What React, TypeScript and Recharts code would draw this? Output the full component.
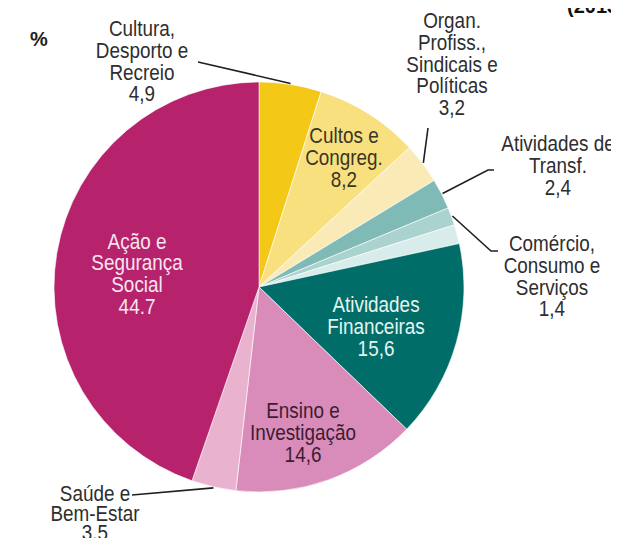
import { PieChart, Pie, Cell } from 'recharts'

const NAMES = [
  'Cultura, Desporto e Recreio',
  'Cultos e Congreg.',
  'Organ. Profiss., Sindicais e Políticas',
  'Atividades de Transf.',
  'Comércio, Consumo e Serviços',
  'Outros',
  'Atividades Financeiras',
  'Ensino e Investigação',
  'Saúde e Bem-Estar',
  'Ação e Segurança Social',
]
const VALUES = [4.9, 8.2, 3.2, 2.4, 1.4, 1.5, 15.6, 14.6, 3.5, 44.7]
const VALUE_TEXT = ['4,9', '8,2', '3,2', '2,4', '1,4', '', '15,6', '14,6', '3.5', '44.7']
const LABEL_LINES = [
  ['Cultura,', 'Desporto e', 'Recreio'],
  ['Cultos e', 'Congreg.'],
  ['Organ.', 'Profiss.,', 'Sindicais e', 'Políticas'],
  ['Atividades de', 'Transf.'],
  ['Comércio,', 'Consumo e', 'Serviços'],
  [],
  ['Atividades', 'Financeiras'],
  ['Ensino e', 'Investigação'],
  ['Saúde e', 'Bem-Estar'],
  ['Ação e', 'Segurança', 'Social'],
]
const COLORS = [
  '#f3c816', '#f8e07e', '#faebb6', '#80bab6', '#aad2ce', '#d8edeb',
  '#006d68', '#d98cb9', '#e9b3cf', '#b6226c',
]

const data = NAMES.map((name, i) => ({ name, value: VALUES[i] }))

const FONT = '"Liberation Sans", Arial, sans-serif'
const TEXT = '#2e2e2e'
const FS = 22.5
const SQUEEZE = 0.84 // reference uses a condensed face
const LH = 21.7

// label layout: inside labels are offset from the pie centre, outside ones have a text block + leader line
const LAYOUT: Record<number, any> = {
  0: { out: true, x: 142, y: 28, from: [[198, 62]] },
  1: { dx: 85, dy: -130, color: '#3b3526' },
  2: { out: true, x: 452, y: 20, from: [[428, 128]] },
  3: { out: true, x: 558, y: 143, from: [[494, 170], [488, 170]] },
  4: { out: true, x: 552, y: 243, from: [[498, 251], [491, 251]] },
  6: { dx: 117, dy: 39, color: '#e6f4f1' },
  7: { dx: 44, dy: 145, color: '#3d1c33' },
  8: { out: true, x: 95, y: 493, lh: 19.5, from: [[132, 495]] },
  9: { dx: -122, dy: -14, color: '#f6e6ef' },
}

const RAD = Math.PI / 180

function Lines({ x, y, lines, lh, color }: any) {
  return (
    <g>
      {lines.map((t: string, k: number) => (
        <text key={k} transform={`translate(${x},${y + k * lh}) scale(${SQUEEZE},1)`}
          textAnchor="middle" dominantBaseline="central"
          fontFamily={FONT} fontSize={FS} fill={color}>{t}</text>
      ))}
    </g>
  )
}

function renderLabel(p: any) {
  const { cx, cy, midAngle, outerRadius, index } = p
  const lay = LAYOUT[index]
  if (!lay) return null
  const lines = [...LABEL_LINES[index], VALUE_TEXT[index]]
  const lh = lay.lh || LH
  if (lay.out) {
    const ex = cx + (outerRadius + 1) * Math.cos(-midAngle * RAD)
    const ey = cy + (outerRadius + 1) * Math.sin(-midAngle * RAD)
    const pts = [...lay.from, [ex, ey]].map((q: number[]) => q.join(',')).join(' ')
    return (
      <g>
        <polyline points={pts} fill="none" stroke="#1f1f1f" strokeWidth={1.6} />
        <Lines x={lay.x} y={lay.y} lines={lines} lh={lh} color={TEXT} />
      </g>
    )
  }
  const x = cx + lay.dx
  const y = cy + lay.dy - ((lines.length - 1) * lh) / 2
  return <Lines x={x} y={y} lines={lines} lh={lh} color={lay.color} />
}

export default function App() {
  return (
    <div style={{ margin: -8, width: 619, height: 546, background: '#fff', overflow: 'hidden' }}>
      <PieChart width={619} height={546} margin={{ top: 0, right: 0, bottom: 0, left: 0 }}>
        <text x={30} y={46} fontFamily={FONT} fontSize={20} fontWeight="bold" fill="#222">%</text>
        <text x={567} y={13} fontFamily={FONT} fontSize={20} fontWeight="bold" fill="#111">(2013)</text>
        <Pie
          data={data}
          dataKey="value"
          nameKey="name"
          cx={259}
          cy={287}
          outerRadius={205}
          startAngle={90}
          endAngle={-270}
          stroke="#ffffff"
          strokeWidth={0.6}
          labelLine={false}
          label={renderLabel}
          isAnimationActive={false}
        >
          {data.map((d, i) => (
            <Cell key={d.name} fill={COLORS[i]} />
          ))}
        </Pie>
      </PieChart>
    </div>
  )
}
